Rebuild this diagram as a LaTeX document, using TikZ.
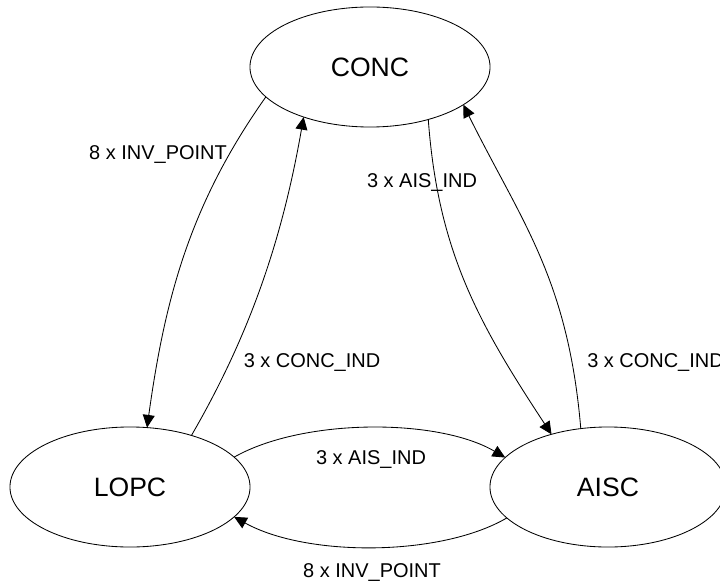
\documentclass[tikz,border=0pt]{standalone}
\usepackage{fontspec}
\setmainfont{Liberation Sans}
\usetikzlibrary{arrows.meta,shapes.geometric}

\begin{document}
\begin{tikzpicture}[x=0.025cm, y=-0.025cm,
  state/.style={draw, ellipse, line width=0.6pt, inner sep=0pt, outer sep=0pt,
                minimum width=6cm, minimum height=3cm,
                font=\fontsize{18.9}{22}\selectfont},
  trans/.style={line width=0.6pt, -{Triangle[length=9pt,width=8.5pt]}},
  lbl/.style={font=\fontsize{14.2}{17}\selectfont, inner sep=0pt}]
\useasboundingbox (0,0) rectangle (720,583);
% States
\node[state] (conc) at (370,67) {CONC};
\node[state] (lopc) at (130,487) {LOPC};
\node[state, minimum width=5.9cm] (aisc) at (608,487) {AISC};

% CONC <-> LOPC
\draw[trans] (conc.196) .. controls (190,204) and (165,298) .. (lopc.74);
\draw[trans] (lopc.40) .. controls (252,331) and (283,235) .. (conc.217);
\node[lbl] (invlopc) at (158,155) {8 x INV\_POINT};
\node[lbl] (concl) at (312,363) {3 x CONC\_IND};

% CONC <-> AISC
\draw[trans] (conc.318) .. controls (438,252) and (479,324) .. (aisc.137);
\draw[trans] (aisc.115) .. controls (568,278) and (521,221) .. (conc.338);
\node[lbl] (aisu) at (422,183) {3 x AIS\_IND};
\node[lbl, anchor=west] (concr) at (587,363) {3 x CONC\_IND};

% LOPC <-> AISC
\draw[trans] (lopc.16) .. controls (303,418) and (438,418) .. (aisc.164);
\draw[trans] (aisc.197) .. controls (440,557) and (306,557) .. (lopc.344);
\node[lbl] (aisl) at (371,460) {3 x AIS\_IND};
\node[lbl] (invb) at (372,573) {8 x INV\_POINT};
\end{tikzpicture}
\end{document}
